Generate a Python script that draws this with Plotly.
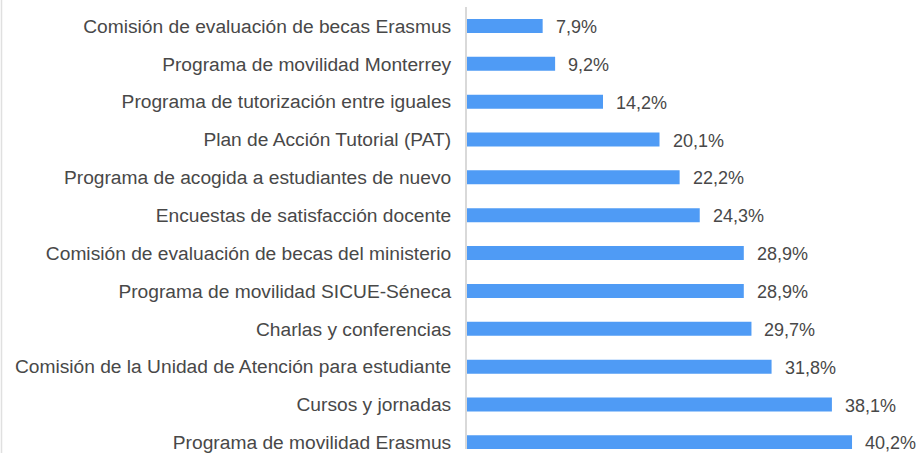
import plotly.graph_objects as go

categories = [
    "Comisión de evaluación de becas Erasmus",
    "Programa de movilidad Monterrey",
    "Programa de tutorización entre iguales",
    "Plan de Acción Tutorial (PAT)",
    "Programa de acogida a estudiantes de nuevo",
    "Encuestas de satisfacción docente",
    "Comisión de evaluación de becas del ministerio",
    "Programa de movilidad SICUE-Séneca",
    "Charlas y conferencias",
    "Comisión de la Unidad de Atención para estudiante",
    "Cursos y jornadas",
    "Programa de movilidad Erasmus",
]
values = [7.9, 9.2, 14.2, 20.1, 22.2, 24.3, 28.9, 28.9, 29.7, 31.8, 38.1, 40.2]
value_labels = ["7,9%", "9,2%", "14,2%", "20,1%", "22,2%", "24,3%",
                "28,9%", "28,9%", "29,7%", "31,8%", "38,1%", "40,2%"]

W, H = 920, 453
ML, MR, MT, MB = 467, 22, 7, 0
plot_w = W - ML - MR
plot_h = H - MT - MB
pitch = 38.2
n_visible = plot_h / pitch

FONT = "Liberation Sans, Arial, sans-serif"
TXT = "#484848"

fig = go.Figure()
fig.add_trace(go.Bar(
    x=values,
    y=categories,
    orientation="h",
    width=0.37,
    marker=dict(color="#4f9bf5", line=dict(width=0)),
    hoverinfo="skip",
))

for c, v, t in zip(categories, values, value_labels):
    fig.add_annotation(
        x=v, y=c, text=t, xref="x", yref="y",
        xanchor="left", yanchor="middle", showarrow=False,
        xshift=11, yshift=-1, font=dict(size=18, color=TXT, family=FONT),
    )

# left container border
fig.add_shape(type="line", xref="paper", yref="paper",
              x0=-(ML - 1.5) / plot_w, x1=-(ML - 1.5) / plot_w,
              y0=-0.1, y1=1.1,
              line=dict(color="#e0e0e0", width=1.5))

fig.update_layout(
    width=W, height=H,
    margin=dict(l=ML, r=MR, t=MT, b=MB, pad=0),
    paper_bgcolor="white", plot_bgcolor="white",
    showlegend=False,
    font=dict(family=FONT, color=TXT),
    xaxis=dict(range=[0, 45], showgrid=False, zeroline=False,
               showticklabels=False, showline=False, ticks=""),
    yaxis=dict(categoryorder="array", categoryarray=categories,
               range=[-0.5 + n_visible, -0.5],
               showgrid=False, zeroline=False,
               showline=True, linecolor="#d9d9d9", linewidth=2,
               ticks="", ticklabelstandoff=10,
               tickfont=dict(size=19.2, color=TXT)),
)

fig.write_html("out.html",
               config={"displayModeBar": False},
               post_script="document.body.style.margin='0';document.body.style.overflow='hidden';")
